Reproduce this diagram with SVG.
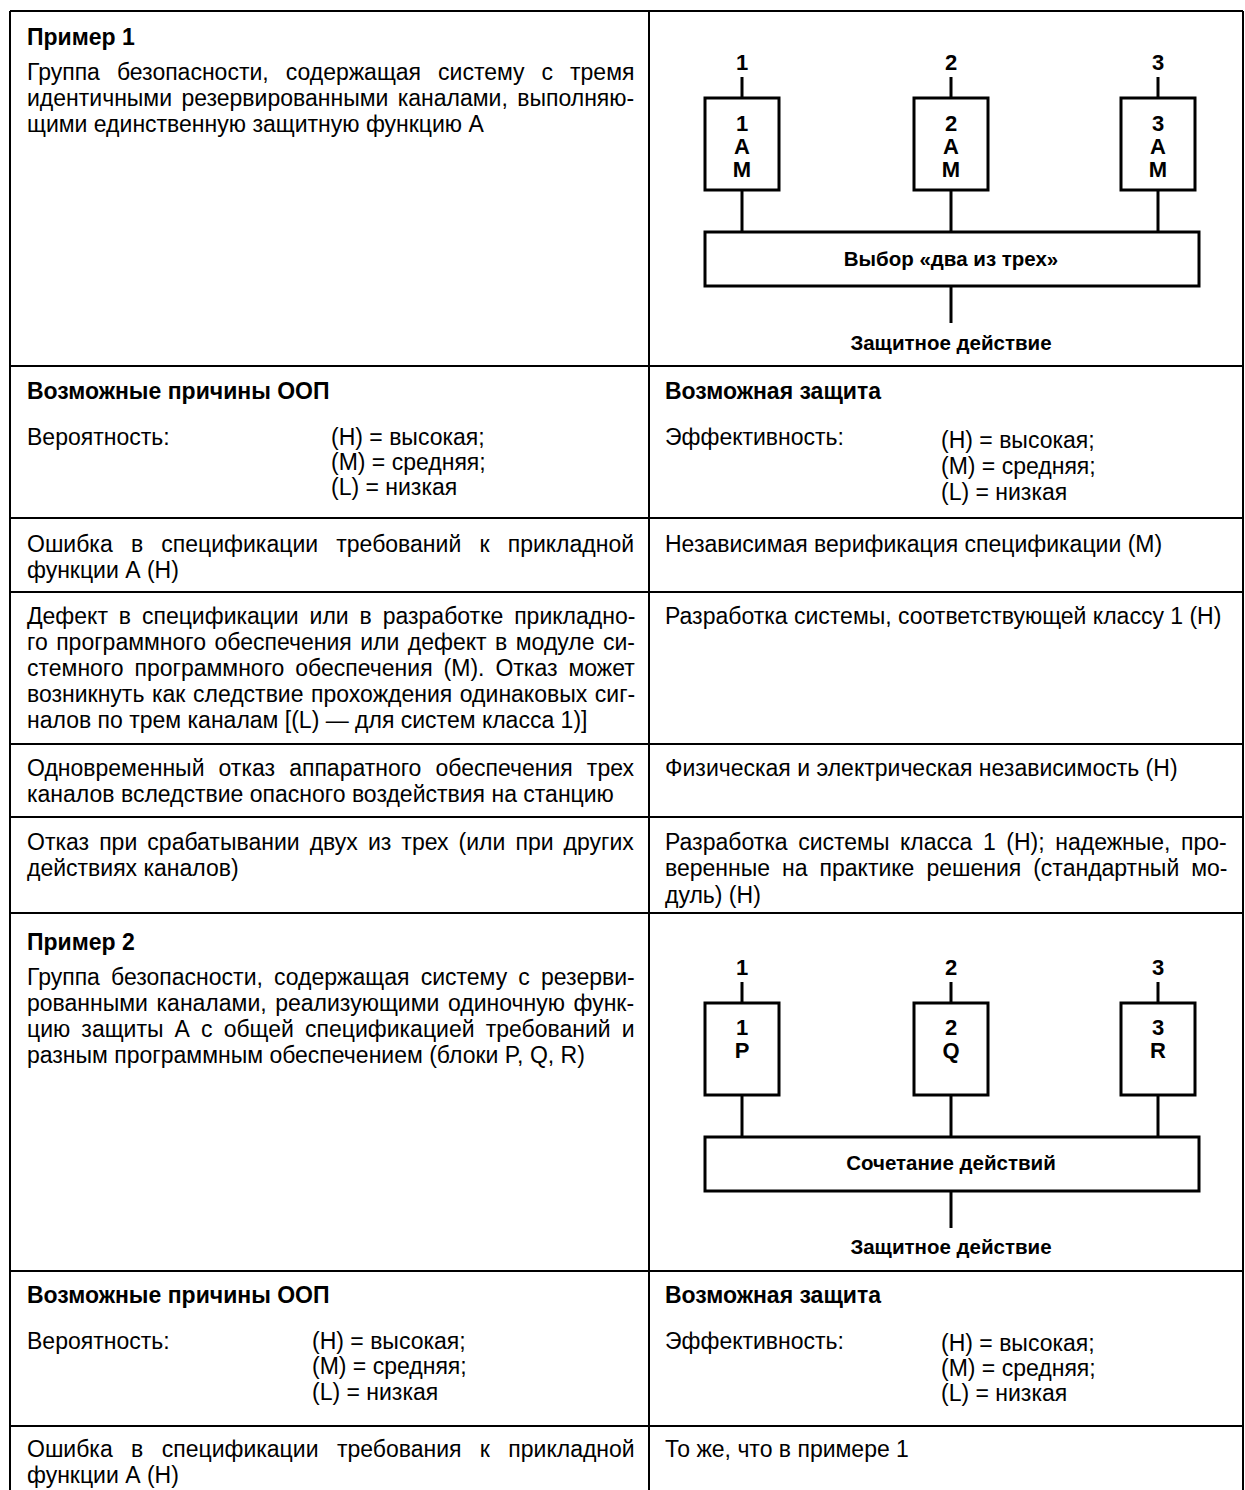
<svg xmlns="http://www.w3.org/2000/svg" width="1245" height="1490" viewBox="0 0 1245 1490">
<style>
.t{font-family:"Liberation Sans",Arial,sans-serif;font-size:23px;fill:#000}
.b{font-weight:bold}
.d{font-family:"Liberation Sans",Arial,sans-serif;font-size:20.5px;font-weight:bold;fill:#000;text-anchor:middle}
.c{font-family:"Liberation Sans",Arial,sans-serif;font-size:22px;font-weight:bold;fill:#000;text-anchor:middle}
.grid{stroke:#000;stroke-width:2;fill:none}
.box{stroke:#000;stroke-width:3;fill:#fff}
.ln{stroke:#000;stroke-width:3;fill:none}
</style>
<rect width="1245" height="1490" fill="#fff"/>
<g id="table-grid" class="grid">
<line x1="10" y1="11" x2="1243" y2="11"/>
<line x1="10" y1="11" x2="10" y2="1490"/>
<line x1="1243" y1="11" x2="1243" y2="1490"/>
<line x1="649" y1="11" x2="649" y2="1490"/>
<line x1="10" y1="366" x2="1243" y2="366"/>
<line x1="10" y1="518" x2="1243" y2="518"/>
<line x1="10" y1="592" x2="1243" y2="592"/>
<line x1="10" y1="744" x2="1243" y2="744"/>
<line x1="10" y1="817" x2="1243" y2="817"/>
<line x1="10" y1="913" x2="1243" y2="913"/>
<line x1="10" y1="1271" x2="1243" y2="1271"/>
<line x1="10" y1="1426" x2="1243" y2="1426"/>
</g>
<g id="row1-text" class="t">
<text x="27" y="45" class="b">Пример 1</text>
<text x="27" y="80" word-spacing="10.6">Группа безопасности, содержащая систему с тремя</text>
<text x="27" y="106" word-spacing="3">идентичными резервированными каналами, выполняю-</text>
<text x="27" y="132">щими единственную защитную функцию А</text>
</g>
<g id="diagram1">
<g id="d1-connectors">
<line class="ln" x1="742" y1="77" x2="742" y2="98"/>
<line class="ln" x1="951" y1="77" x2="951" y2="98"/>
<line class="ln" x1="1158" y1="77" x2="1158" y2="98"/>
<line class="ln" x1="742" y1="190" x2="742" y2="232"/>
<line class="ln" x1="951" y1="190" x2="951" y2="232"/>
<line class="ln" x1="1158" y1="190" x2="1158" y2="232"/>
<line class="ln" x1="951" y1="286" x2="951" y2="323"/>
</g>
<g id="d1-ch1"><rect class="box" x="705" y="98" width="74" height="92"/>
<text class="c" x="742" y="131">1</text><text class="c" x="742" y="154">А</text><text class="c" x="742" y="177">М</text></g>
<g id="d1-ch2"><rect class="box" x="914" y="98" width="74" height="92"/>
<text class="c" x="951" y="131">2</text><text class="c" x="951" y="154">А</text><text class="c" x="951" y="177">М</text></g>
<g id="d1-ch3"><rect class="box" x="1121" y="98" width="74" height="92"/>
<text class="c" x="1158" y="131">3</text><text class="c" x="1158" y="154">А</text><text class="c" x="1158" y="177">М</text></g>
<g id="d1-vote"><rect class="box" x="705" y="232" width="494" height="54"/>
<text class="d" x="951" y="266">Выбор «два из трех»</text></g>
<g id="d1-labels">
<text class="c" x="742" y="70">1</text>
<text class="c" x="951" y="70">2</text>
<text class="c" x="1158" y="70">3</text>
<text class="d" x="951" y="350">Защитное действие</text>
</g>
</g>
<g id="row2-text" class="t">
<text x="27" y="399" class="b">Возможные причины ООП</text>
<text x="27" y="445">Вероятность:</text>
<text x="331" y="445">(Н) = высокая;</text>
<text x="331" y="470">(М) = средняя;</text>
<text x="331" y="495">(L) = низкая</text>
<text x="665" y="399" class="b">Возможная защита</text>
<text x="665" y="445">Эффективность:</text>
<text x="941" y="448">(Н) = высокая;</text>
<text x="941" y="474">(М) = средняя;</text>
<text x="941" y="500">(L) = низкая</text>
</g>
<g id="row3-text" class="t">
<text x="27" y="552" word-spacing="11.8">Ошибка в спецификации требований к прикладной</text>
<text x="27" y="578">функции А (Н)</text>
<text x="665" y="552">Независимая верификация спецификации (М)</text>
</g>
<g id="row4-text" class="t">
<text x="27" y="624" word-spacing="4.5">Дефект в спецификации или в разработке прикладно-</text>
<text x="27" y="650" word-spacing="2.1">го программного обеспечения или дефект в модуле си-</text>
<text x="27" y="676" word-spacing="4.6">стемного программного обеспечения (М). Отказ может</text>
<text x="27" y="702" word-spacing="1.2">возникнуть как следствие прохождения одинаковых сиг-</text>
<text x="27" y="728">налов по трем каналам [(L) — для систем класса 1)]</text>
<text x="665" y="624">Разработка системы, соответствующей классу 1 (Н)</text>
</g>
<g id="row5-text" class="t">
<text x="27" y="776" word-spacing="7.7">Одновременный отказ аппаратного обеспечения трех</text>
<text x="27" y="802">каналов вследствие опасного воздействия на станцию</text>
<text x="665" y="776">Физическая и электрическая независимость (Н)</text>
</g>
<g id="row6-text" class="t">
<text x="27" y="850" word-spacing="3.7">Отказ при срабатывании двух из трех (или при других</text>
<text x="27" y="876">действиях каналов)</text>
<text x="665" y="850" word-spacing="4.2">Разработка системы класса 1 (Н); надежные, про-</text>
<text x="665" y="876" word-spacing="5.6">веренные на практике решения (стандартный мо-</text>
<text x="665" y="903">дуль) (Н)</text>
</g>
<g id="row7-text" class="t">
<text x="27" y="950" class="b">Пример 2</text>
<text x="27" y="985" word-spacing="4.8">Группа безопасности, содержащая систему с резерви-</text>
<text x="27" y="1011" word-spacing="2.2">рованными каналами, реализующими одиночную функ-</text>
<text x="27" y="1037" word-spacing="4.7">цию защиты А с общей спецификацией требований и</text>
<text x="27" y="1063">разным программным обеспечением (блоки P, Q, R)</text>
</g>
<g id="diagram2">
<g id="d2-connectors">
<line class="ln" x1="742" y1="982" x2="742" y2="1003"/>
<line class="ln" x1="951" y1="982" x2="951" y2="1003"/>
<line class="ln" x1="1158" y1="982" x2="1158" y2="1003"/>
<line class="ln" x1="742" y1="1095" x2="742" y2="1137"/>
<line class="ln" x1="951" y1="1095" x2="951" y2="1137"/>
<line class="ln" x1="1158" y1="1095" x2="1158" y2="1137"/>
<line class="ln" x1="951" y1="1191" x2="951" y2="1228"/>
</g>
<g id="d2-ch1"><rect class="box" x="705" y="1003" width="74" height="92"/>
<text class="c" x="742" y="1035">1</text><text class="c" x="742" y="1058">P</text></g>
<g id="d2-ch2"><rect class="box" x="914" y="1003" width="74" height="92"/>
<text class="c" x="951" y="1035">2</text><text class="c" x="951" y="1058">Q</text></g>
<g id="d2-ch3"><rect class="box" x="1121" y="1003" width="74" height="92"/>
<text class="c" x="1158" y="1035">3</text><text class="c" x="1158" y="1058">R</text></g>
<g id="d2-comb"><rect class="box" x="705" y="1137" width="494" height="54"/>
<text class="d" x="951" y="1170">Сочетание действий</text></g>
<g id="d2-labels">
<text class="c" x="742" y="975">1</text>
<text class="c" x="951" y="975">2</text>
<text class="c" x="1158" y="975">3</text>
<text class="d" x="951" y="1254">Защитное действие</text>
</g>
</g>
<g id="row8-text" class="t">
<text x="27" y="1303" class="b">Возможные причины ООП</text>
<text x="27" y="1349">Вероятность:</text>
<text x="312" y="1349">(Н) = высокая;</text>
<text x="312" y="1374">(М) = средняя;</text>
<text x="312" y="1400">(L) = низкая</text>
<text x="665" y="1303" class="b">Возможная защита</text>
<text x="665" y="1349">Эффективность:</text>
<text x="941" y="1351">(Н) = высокая;</text>
<text x="941" y="1376">(М) = средняя;</text>
<text x="941" y="1401">(L) = низкая</text>
</g>
<g id="row9-text" class="t">
<text x="27" y="1457" word-spacing="12">Ошибка в спецификации требования к прикладной</text>
<text x="27" y="1483">функции А (Н)</text>
<text x="665" y="1457">То же, что в примере 1</text>
</g>
</svg>
